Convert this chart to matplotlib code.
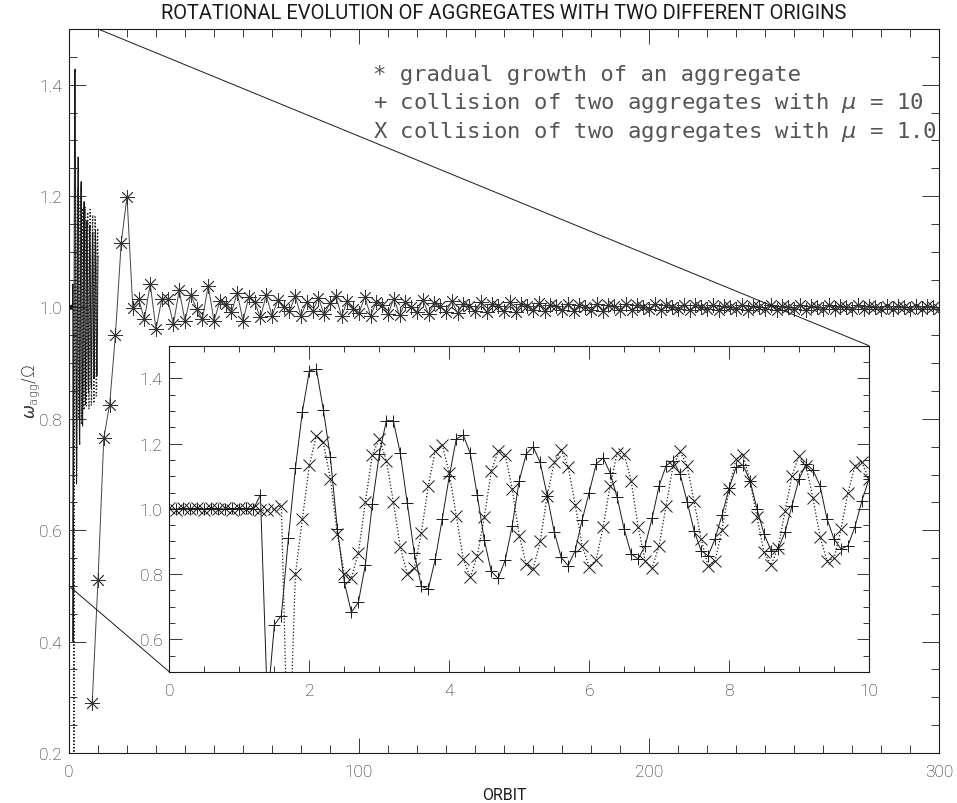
import numpy as np
import matplotlib
matplotlib.use("Agg")
import matplotlib.pyplot as plt
from matplotlib.patches import ConnectionPatch
from matplotlib.ticker import MultipleLocator

plt.rcParams["font.family"] = ["Roboto", "DejaVu Sans"]
plt.rcParams["font.weight"] = "light"
plt.rcParams["mathtext.fontset"] = "dejavusans"

# ---- gradual growth of an aggregate (one sample every 2 orbits) ----
growth_orbit = np.arange(8, 301, 2)
growth_omega = [
    0.290, 0.510, 0.766, 0.825, 0.950, 1.116, 1.199, 0.999, 1.015, 0.979,
    1.042, 0.961, 1.015, 1.015, 0.970, 1.031, 0.976, 1.023, 0.997, 0.979,
    1.039, 0.976, 1.011, 1.006, 0.991, 1.026, 0.976, 1.019, 1.009, 0.982,
    1.022, 0.985, 1.013, 1.000, 0.994, 1.020, 0.985, 1.010,
    0.993, 1.017, 0.988, 1.008, 1.021, 0.984, 1.012, 0.998, 0.990, 1.019,
    0.985, 1.010, 1.004, 0.988, 1.016, 0.986, 1.009, 1.001, 0.991, 1.014,
    0.988, 1.008, 1.002, 0.992, 1.011, 0.990, 1.007, 1.002, 0.993, 1.010,
    0.991, 1.006, 1.003, 0.994, 1.009, 0.992, 1.006, 1.002, 0.995, 1.008,
    0.993, 1.005, 1.002, 0.995, 1.007, 0.994, 1.005, 1.001, 0.996, 1.007,
    0.994, 1.004, 1.002, 0.996, 1.006, 0.995, 1.004, 1.001, 0.997, 1.006,
    0.995, 1.004, 1.001, 0.997, 1.005, 0.995, 1.004, 1.001, 0.997, 1.005,
    0.996, 1.003, 1.001, 0.997, 1.005, 0.996, 1.003, 1.001, 0.998, 1.004,
    0.996, 1.003, 1.000, 0.998, 1.004, 0.996, 1.003, 1.000, 0.998, 1.004,
    0.997, 1.003, 1.000, 0.998, 1.004, 0.997, 1.003, 1.000, 0.998, 1.003,
    0.997, 1.003, 1.000, 0.998, 1.003, 0.997, 1.002, 1.000, 0.998,
]

# ---- collisions of two aggregates (one sample every 0.1 orbit) ----
coll_orbit = np.round(np.arange(0, 101) * 0.1, 1)
omega_mu10 = [
    1.000, 0.998, 1.002, 0.999, 1.001, 0.998, 1.002, 1.000, 0.999, 1.001,
    1.000, 1.001, 1.000, 1.042, 0.400, 0.645, 0.673, 0.910, 1.124, 1.298,
    1.423, 1.428, 1.303, 1.158, 0.938, 0.775, 0.683, 0.713, 0.828, 1.015,
    1.168, 1.270, 1.270, 1.170, 1.017, 0.864, 0.763, 0.754, 0.846, 0.969,
    1.100, 1.214, 1.226, 1.170, 1.042, 0.905, 0.808, 0.787, 0.843, 0.948,
    1.086, 1.168, 1.190, 1.142, 1.040, 0.930, 0.851, 0.826, 0.872, 0.966,
    1.050, 1.137, 1.156, 1.110, 1.035, 0.938, 0.862, 0.846, 0.887, 0.971,
    1.071, 1.132, 1.148, 1.107, 1.022, 0.933, 0.872, 0.856, 0.908, 0.981,
    1.063, 1.127, 1.134, 1.086, 0.999, 0.923, 0.872, 0.877, 0.928, 1.010,
    1.091, 1.137, 1.119, 1.071, 0.969, 0.908, 0.877, 0.887, 0.945, 1.025,
    1.091,
]
omega_mu1 = [
    1.002, 0.997, 1.003, 0.998, 1.002, 0.997, 1.003, 0.998, 1.004, 0.997,
    1.002, 0.998, 1.003, 0.995, 0.995, 1.000, 1.010, 0.150, 0.800, 0.969,
    1.134, 1.224, 1.204, 1.091, 0.923, 0.800, 0.787, 0.864, 1.020, 1.166,
    1.214, 1.148, 1.022, 0.882, 0.800, 0.818, 0.925, 1.071, 1.178, 1.196,
    1.109, 0.979, 0.846, 0.790, 0.856, 0.974, 1.115, 1.178, 1.166, 1.061,
    0.918, 0.831, 0.816, 0.900, 1.040, 1.142, 1.181, 1.129, 1.013, 0.887,
    0.823, 0.843, 0.945, 1.071, 1.171, 1.168, 1.086, 0.945, 0.841, 0.818,
    0.887, 1.010, 1.132, 1.176, 1.132, 1.023, 0.908, 0.824, 0.841, 0.936,
    1.061, 1.153, 1.166, 1.084, 0.974, 0.867, 0.828, 0.879, 0.992, 1.102,
    1.163, 1.132, 1.032, 0.915, 0.841, 0.848, 0.938, 1.049, 1.132, 1.142,
    1.090,
]

title_text = "ROTATIONAL EVOLUTION OF AGGREGATES WITH TWO DIFFERENT ORIGINS"
legend_lines = [
    "* gradual growth of an aggregate",
    r"+ collision of two aggregates with $\mu$ = 10",
    r"X collision of two aggregates with $\mu$ = 1.0",
]

INK = "#1a1a1a"
LW = 0.7

fig = plt.figure(figsize=(9.57, 8.04), dpi=100)

# ---------------- main panel ----------------
ax = fig.add_axes([0.0721, 0.0622, 0.9091, 0.9005])
ax.plot(coll_orbit, omega_mu10, "-", color=INK, lw=LW)
ax.plot(coll_orbit, omega_mu1, ":", color=INK, lw=0.9)
ax.plot(growth_orbit, growth_omega, "-", color="#444444", lw=LW,
        marker=(8, 2, 0), ms=10.5, mew=0.6, mec="#333333")
ax.set_xlim(0, 300)
ax.set_ylim(0.2, 1.5)
ax.xaxis.set_major_locator(MultipleLocator(100))
ax.xaxis.set_minor_locator(MultipleLocator(10))
ax.yaxis.set_major_locator(MultipleLocator(0.2))
ax.yaxis.set_minor_locator(MultipleLocator(0.05))
ax.yaxis.set_major_formatter(plt.FormatStrFormatter("%.1f"))
ax.tick_params(which="both", direction="in", top=True, right=True,
               width=0.6, colors=INK, labelsize=12.5)
ax.tick_params(axis="x", which="major", length=11, pad=8)
ax.tick_params(axis="y", which="major", length=12, pad=5)
ax.tick_params(which="minor", length=6)
for s in ax.spines.values():
    s.set_linewidth(0.8)
    s.set_color(INK)
ax.set_title(title_text, fontsize=14.5, pad=8, color=INK)
ax.set_xlabel("ORBIT", fontsize=11.5, labelpad=6, color=INK)
ax.set_ylabel(r"$\omega_{\rm agg}/\Omega$", fontsize=12, labelpad=-2, color="#333333")

for i, line in enumerate(legend_lines):
    ax.text(0.349, 0.938 - i * 0.0395, line, transform=ax.transAxes,
            family="DejaVu Sans Mono", fontweight="normal",
            fontsize=16, va="center", ha="left", color="#555555")

# ---------------- inset: first ten orbits ----------------
axin = fig.add_axes([0.1771, 0.163, 0.7309, 0.4058])
axin.set_facecolor("white")
axin.plot(coll_orbit, omega_mu10, "-", color=INK, lw=LW,
          marker="+", ms=9, mew=0.7)
axin.plot(coll_orbit, omega_mu1, ":", color=INK, lw=0.9,
          marker="x", ms=8.5, mew=0.7)
axin.set_xlim(0, 10)
axin.set_ylim(0.5, 1.5)
axin.xaxis.set_major_locator(MultipleLocator(2))
axin.xaxis.set_minor_locator(MultipleLocator(0.5))
axin.yaxis.set_major_locator(MultipleLocator(0.2))
axin.yaxis.set_minor_locator(MultipleLocator(0.05))
axin.yaxis.set_major_formatter(plt.FormatStrFormatter("%.1f"))
axin.tick_params(which="both", direction="in", top=True, right=True,
                 width=0.6, colors=INK, labelsize=12.5)
axin.tick_params(which="major", length=9)
axin.tick_params(axis="x", which="major", pad=8)
axin.tick_params(axis="y", which="major", pad=5)
axin.tick_params(which="minor", length=4.5)
for s in axin.spines.values():
    s.set_linewidth(0.8)
    s.set_color(INK)

# zoom guides linking the main panel region to the inset corners
for xa, ya in [(10, 1.5), (0, 0.5)]:
    con = ConnectionPatch(xyA=(xa, ya), coordsA=ax.transData,
                          xyB=(xa, ya), coordsB=axin.transData,
                          color=INK, lw=0.7)
    fig.add_artist(con)

fig.savefig("out.png", dpi=100)
